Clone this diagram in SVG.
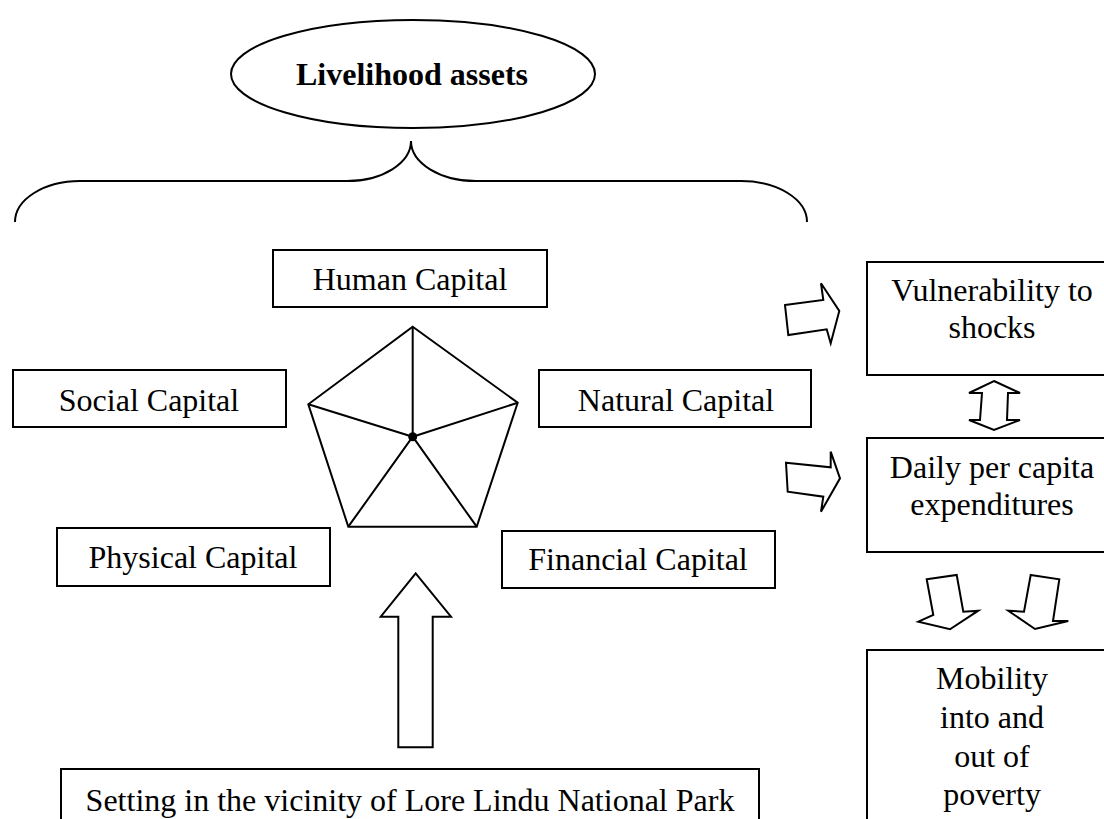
<svg xmlns="http://www.w3.org/2000/svg" width="1104" height="819" viewBox="0 0 1104 819">
<style>
.box{fill:#fff;stroke:#000;stroke-width:2}
.ln{fill:none;stroke:#000;stroke-width:2;stroke-linejoin:miter}
.ar{fill:#fff;stroke:#000;stroke-width:2;stroke-linejoin:miter}
text{font-family:"Liberation Serif","Times New Roman",serif;font-size:32px;fill:#000;text-anchor:middle}
.b{font-weight:bold}
</style>
<rect width="1104" height="819" fill="#fff"/>
<g id="title">
<ellipse class="box" cx="413" cy="74" rx="182" ry="54"/>
<text class="b" x="412" y="85">Livelihood assets</text>
</g>
<g id="brace">
<path class="ln" d="M15 222 A65 41 0 0 1 80 181 L347 181 A64 40 0 0 0 411 141 A65 40 0 0 0 476 181 L741 181 A66 41 0 0 1 807 222"/>
</g>
<g id="pentagon">
<polygon class="ln" points="412.7,326.7 517.7,402.7 476.7,526.7 348.3,526.7 308.3,404.3"/>
<path class="ln" d="M412.7 436.7 L412.7 326.7 M412.7 436.7 L517.7 402.7 M412.7 436.7 L476.7 526.7 M412.7 436.7 L348.3 526.7 M412.7 436.7 L308.3 404.3"/>
<circle cx="412.7" cy="436.7" r="4.5" fill="#000"/>
</g>
<g id="human">
<rect class="box" x="273" y="250" width="274" height="57"/>
<text x="410" y="290">Human Capital</text>
</g>
<g id="social">
<rect class="box" x="13" y="370" width="273" height="57"/>
<text x="149" y="411">Social Capital</text>
</g>
<g id="natural">
<rect class="box" x="539" y="370" width="272" height="57"/>
<text x="676" y="411">Natural Capital</text>
</g>
<g id="physical">
<rect class="box" x="57" y="528" width="273" height="58"/>
<text x="193" y="568">Physical Capital</text>
</g>
<g id="financial">
<rect class="box" x="502" y="531" width="273" height="57"/>
<text x="638" y="570">Financial Capital</text>
</g>
<g id="setting">
<rect class="box" x="61" y="769" width="698" height="70"/>
<text x="410" y="811">Setting in the vicinity of Lore Lindu National Park</text>
</g>
<g id="vulnerability">
<rect class="box" x="867" y="262" width="250" height="113"/>
<text x="992" y="301">Vulnerability to</text>
<text x="992" y="338">shocks</text>
</g>
<g id="daily">
<rect class="box" x="867" y="438" width="250" height="114"/>
<text x="992" y="478">Daily per capita</text>
<text x="992" y="515">expenditures</text>
</g>
<g id="mobility">
<rect class="box" x="867" y="650" width="250" height="200"/>
<text x="992" y="689">Mobility</text>
<text x="992" y="728">into and</text>
<text x="992" y="767">out of</text>
<text x="992" y="805">poverty</text>
</g>
<g id="connectors">
<polygon class="ar" points="415.7,573.3 451,616.7 432.7,616.7 432.7,747.3 398.3,747.3 398.3,616.7 380.7,616.7"/>
<polygon class="ar" points="785,305 823.3,300 821,283.3 839.3,311 830.7,343.3 826.7,329.3 788.3,335"/>
<polygon class="ar" points="786,462.7 830.7,467.3 830.7,451.7 840,478.3 821,511.7 823.3,496.7 787.7,491.7"/>
<polygon class="ar" points="994,381 1020,393 1008,393 1007,420 1020,420 994,430 969,420 980,420 982,393 969,393"/>
<polygon class="ar" points="926.7,579.3 956.7,575 963.3,611.7 978.3,610.7 950,629.3 918.3,621.7 933.3,615"/>
<polygon class="ar" points="1030.7,575 1059.3,579.3 1053,621 1068.3,621 1035,629 1008.3,610.7 1024,611.7"/>
</g>
</svg>
